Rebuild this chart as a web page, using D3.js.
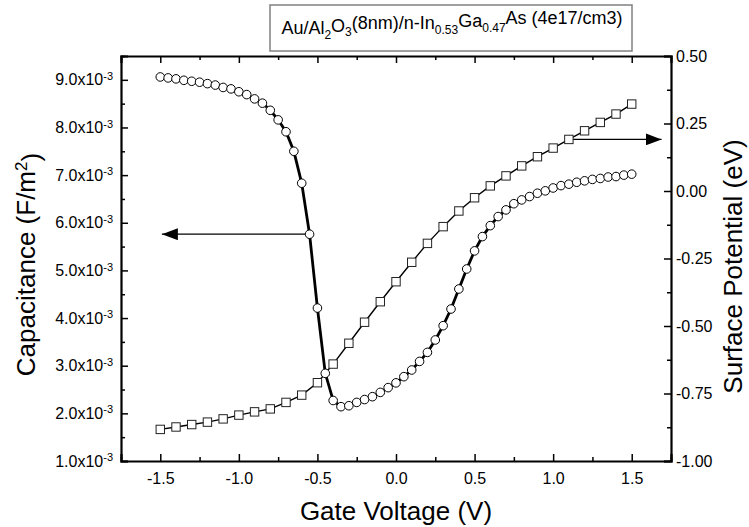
<!DOCTYPE html>
<html>
<head>
<meta charset="utf-8">
<script src="https://cdn.jsdelivr.net/npm/d3@7"></script>
<style>
  body { margin: 0; background: #fff; }
  svg { display: block; font-family: Arial, "Liberation Sans", sans-serif; }
</style>
</head>
<body>
<svg id="drawing_region"></svg>
<script>
// capacitance (left axis, x1e-3 F/m^2), measured every 0.05 V
const voltC = [-1.50,-1.45,-1.40,-1.35,-1.30,-1.25,-1.20,-1.15,-1.10,-1.05,-1.00,-0.95,-0.90,-0.85,-0.80,-0.75,-0.70,-0.65,-0.60,-0.55,
               -0.50,-0.45,-0.40,-0.35,-0.30,-0.25,-0.20,-0.15,-0.10,-0.05,0.00,0.05,0.10,0.15,0.20,0.25,0.30,0.35,0.40,0.45,
               0.50,0.55,0.60,0.65,0.70,0.75,0.80,0.85,0.90,0.95,1.00,1.05,1.10,1.15,1.20,1.25,1.30,1.35,1.40,1.45,1.50];
const capacitance = [9.06,9.04,9.02,8.99,8.97,8.95,8.92,8.89,8.84,8.81,8.75,8.69,8.60,8.51,8.36,8.16,7.91,7.50,6.83,5.76,
                     4.21,2.84,2.27,2.14,2.16,2.23,2.29,2.35,2.44,2.54,2.64,2.77,2.91,3.09,3.28,3.54,3.84,4.19,4.61,5.03,
                     5.41,5.71,5.94,6.13,6.27,6.40,6.48,6.55,6.62,6.67,6.73,6.78,6.81,6.85,6.88,6.91,6.93,6.96,6.97,7.00,7.02];

// surface potential (right axis, eV), every 0.1 V
const voltS = [-1.5,-1.4,-1.3,-1.2,-1.1,-1.0,-0.9,-0.8,-0.7,-0.6,-0.5,-0.4,-0.3,-0.2,-0.1,0.0,
               0.1,0.2,0.3,0.4,0.5,0.6,0.7,0.8,0.9,1.0,1.1,1.2,1.3,1.4,1.5];
const surfacePotential = [-0.883,-0.874,-0.865,-0.856,-0.844,-0.830,-0.818,-0.807,-0.783,-0.756,-0.710,-0.641,-0.564,-0.486,-0.410,-0.336,
                          -0.264,-0.194,-0.132,-0.074,-0.025,0.019,0.056,0.093,0.127,0.159,0.191,0.223,0.254,0.285,0.322];

// tick values
const xTicks = [-1.5,-1.0,-0.5,0.0,0.5,1.0,1.5];
const xMinor = [-1.75,-1.25,-0.75,-0.25,0.25,0.75,1.25,1.75];
const leftTicks = [1,2,3,4,5,6,7,8,9];
const leftMinor = [1.5,2.5,3.5,4.5,5.5,6.5,7.5,8.5,9.5];
const rightTicks = [0.5,0.25,0,-0.25,-0.5,-0.75,-1.0];
const rightMinor = [0.375,0.125,-0.125,-0.375,-0.625,-0.875];

// annotation arrows (data coords): [x0, y0, x1, y1]
const arrowCap = [-0.55, 5.76, -1.49, 5.76];
const arrowSP = [1.1, 0.191, 1.69, 0.191];

const config = {
    width: 749, height: 527,
    margin: {top: 56, right: 78, bottom: 66, left: 121}
};

const svg = d3.select('#drawing_region')
    .attr('width', config.width)
    .attr('height', config.height);

const inner_width = config.width - config.margin.left - config.margin.right;
const inner_height = config.height - config.margin.top - config.margin.bottom;

const chart = svg.append('g')
    .attr('transform', `translate(${config.margin.left}, ${config.margin.top})`);

const xscale = d3.scaleLinear().domain([-1.75, 1.75]).range([0, inner_width]);
const yleft = d3.scaleLinear().domain([1.0, 9.5]).range([inner_height, 0]);
const yright = d3.scaleLinear().domain([-1.0, 0.5]).range([inner_height, 0]);

const hyphen = f => d => f(d).replace('\u2212', '-');

// arrow head marker
svg.append('defs').append('marker')
    .attr('id', 'head')
    .attr('viewBox', '0 0 16 12')
    .attr('refX', 16).attr('refY', 6)
    .attr('markerWidth', 16).attr('markerHeight', 12)
    .attr('markerUnits', 'userSpaceOnUse')
    .attr('orient', 'auto')
    .append('path')
    .attr('d', 'M0,0 L16,6 L0,12 Z')
    .attr('fill', '#000');

// axes
function styleAxis(g, width) {
    g.select('.domain').attr('stroke', '#000').attr('stroke-width', width);
    g.selectAll('.tick line').attr('stroke', '#000').attr('stroke-width', 1.5);
    g.selectAll('text').attr('fill', '#000').style('font-size', '16px');
}

const xaxis = d3.axisBottom(xscale).tickValues(xTicks).tickSize(-7).tickPadding(12)
    .tickFormat(hyphen(d3.format('.1f')));
chart.append('g').attr('transform', `translate(0, ${inner_height})`)
    .call(xaxis).call(g => styleAxis(g, 2.2));
chart.append('g').attr('transform', `translate(0, ${inner_height})`)
    .call(d3.axisBottom(xscale).tickValues(xMinor).tickSize(-4).tickFormat(''))
    .call(g => { styleAxis(g, 0); g.select('.domain').remove(); });

chart.append('g')
    .call(d3.axisTop(xscale).tickValues(xTicks).tickSize(-7).tickFormat(''))
    .call(g => styleAxis(g, 2.2));
chart.append('g')
    .call(d3.axisTop(xscale).tickValues(xMinor).tickSize(-4).tickFormat(''))
    .call(g => { styleAxis(g, 0); g.select('.domain').remove(); });

const leftAxisG = chart.append('g')
    .call(d3.axisLeft(yleft).tickValues(leftTicks).tickSize(-7).tickPadding(8).tickFormat(''))
    .call(g => styleAxis(g, 2.2));
leftAxisG.selectAll('.tick text').each(function(d) {
    const t = d3.select(this);
    t.append('tspan').text(d3.format('.1f')(d) + 'x10');
    t.append('tspan').attr('dy', '-0.5em').style('font-size', '11px').text('-3');
});
chart.append('g')
    .call(d3.axisLeft(yleft).tickValues(leftMinor).tickSize(-4).tickFormat(''))
    .call(g => { styleAxis(g, 0); g.select('.domain').remove(); });

chart.append('g').attr('transform', `translate(${inner_width}, 0)`)
    .call(d3.axisRight(yright).tickValues(rightTicks).tickSize(-7).tickPadding(5)
        .tickFormat(hyphen(d3.format('.2f'))))
    .call(g => styleAxis(g, 2.2));
chart.append('g').attr('transform', `translate(${inner_width}, 0)`)
    .call(d3.axisRight(yright).tickValues(rightMinor).tickSize(-4).tickFormat(''))
    .call(g => { styleAxis(g, 0); g.select('.domain').remove(); });

// series
const capData = voltC.map((v, i) => ({x: v, y: capacitance[i]}));
const spData = voltS.map((v, i) => ({x: v, y: surfacePotential[i]}));

chart.append('path')
    .datum(spData)
    .attr('fill', 'none').attr('stroke', '#000').attr('stroke-width', 1.4)
    .attr('d', d3.line().x(d => xscale(d.x)).y(d => yright(d.y)));

chart.append('path')
    .datum(capData)
    .attr('fill', 'none').attr('stroke', '#000').attr('stroke-width', 2.8)
    .attr('d', d3.line().x(d => xscale(d.x)).y(d => yleft(d.y)));

// arrows
chart.append('line')
    .attr('x1', xscale(arrowCap[0])).attr('y1', yleft(arrowCap[1]))
    .attr('x2', xscale(arrowCap[2])).attr('y2', yleft(arrowCap[3]))
    .attr('stroke', '#000').attr('stroke-width', 1.2)
    .attr('marker-end', 'url(#head)');
chart.append('line')
    .attr('x1', xscale(arrowSP[0])).attr('y1', yright(arrowSP[1]))
    .attr('x2', xscale(arrowSP[2])).attr('y2', yright(arrowSP[3]))
    .attr('stroke', '#000').attr('stroke-width', 1.2)
    .attr('marker-end', 'url(#head)');

chart.selectAll('rect.sq')
    .data(spData).enter().append('rect')
    .attr('class', 'sq')
    .attr('x', d => xscale(d.x) - 4.2).attr('y', d => yright(d.y) - 4.2)
    .attr('width', 8.4).attr('height', 8.4)
    .attr('fill', '#fff').attr('stroke', '#222').attr('stroke-width', 1);

chart.selectAll('circle.c')
    .data(capData).enter().append('circle')
    .attr('class', 'c')
    .attr('cx', d => xscale(d.x)).attr('cy', d => yleft(d.y))
    .attr('r', 4.3)
    .attr('fill', '#fff').attr('stroke', '#000').attr('stroke-width', 1);

// axis titles
svg.append('text')
    .attr('x', config.margin.left + inner_width / 2)
    .attr('y', 520)
    .attr('text-anchor', 'middle')
    .style('font-size', '26px')
    .text('Gate Voltage (V)');

const ylab = svg.append('text')
    .attr('transform', `translate(35, ${config.margin.top + inner_height / 2 + 6}) rotate(-90)`)
    .attr('text-anchor', 'middle')
    .style('font-size', '26px');
ylab.append('tspan').text('Capacitance (F/m');
ylab.append('tspan').attr('dy', '-0.5em').style('font-size', '17px').text('2');
ylab.append('tspan').attr('dy', '0.5em').text(')');

svg.append('text')
    .attr('transform', `translate(742, ${config.margin.top + inner_height / 2 + 8}) rotate(-90)`)
    .attr('text-anchor', 'middle')
    .style('font-size', '26px')
    .text('Surface Potential (eV)');

// title box
svg.append('rect')
    .attr('x', 270).attr('y', 5)
    .attr('width', 362).attr('height', 46)
    .attr('fill', '#fff').attr('stroke', '#808080').attr('stroke-width', 1.5);

const title = svg.append('text')
    .attr('x', 452).attr('y', 34)
    .attr('text-anchor', 'middle')
    .style('font-size', '18px');
const parts = [['Au/Al', 0], ['2', 1], ['O', 0], ['3', 1], ['(8nm)/n-In', 0], ['0.53', 1],
               ['Ga', 0], ['0.47', 1], ['As (4e17/cm3)', 0]];
let sub = false;
parts.forEach(([s, isSub]) => {
    const ts = title.append('tspan').text(s);
    if (isSub && !sub) { ts.attr('dy', '0.4em').style('font-size', '12px'); sub = true; }
    else if (!isSub && sub) { ts.attr('dy', '-0.4em'); sub = false; }
    else if (isSub) { ts.style('font-size', '12px'); }
});
</script>
</body>
</html>
